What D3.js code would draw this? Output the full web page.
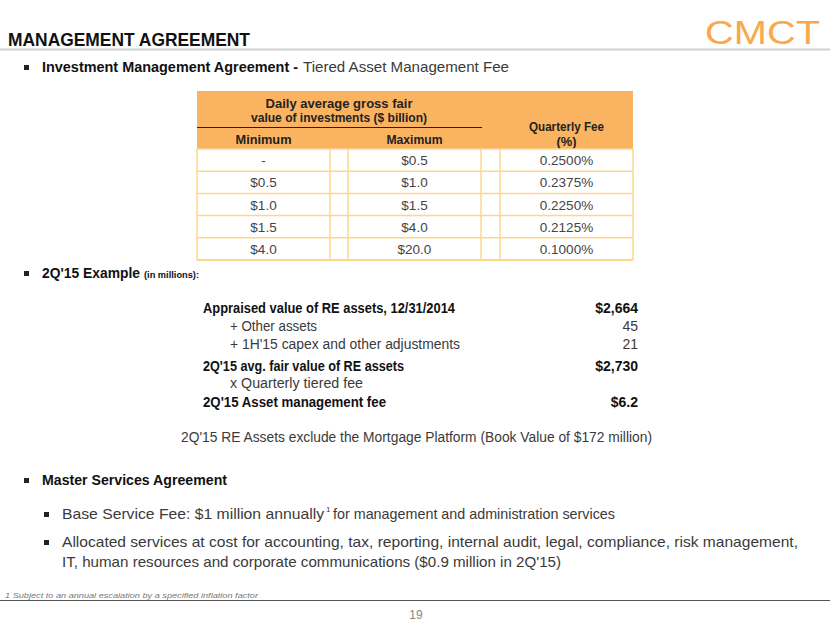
<!DOCTYPE html>
<html>
<head>
<meta charset="utf-8">
<script src="https://cdn.jsdelivr.net/npm/d3@7"></script>
<style>
  html, body { margin: 0; padding: 0; background: #fff; }
  svg { display: block; font-family: 'Liberation Sans', Arial, sans-serif; }
</style>
</head>
<body>
<svg id="slide" width="830" height="623"></svg>
<script>
// fee tiers ($ billion) and quarterly fee
const tierMin = ['-', '$0.5', '$1.0', '$1.5', '$4.0'];
const tierMax = ['$0.5', '$1.0', '$1.5', '$4.0', '$20.0'];
const tierFee = ['0.2500%', '0.2375%', '0.2250%', '0.2125%', '0.1000%'];

// 2Q'15 example (in millions)
const exampleLabels = [
  'Appraised value of RE assets, 12/31/2014',
  '+ Other assets',
  "+ 1H'15 capex and other adjustments",
  "2Q'15 avg. fair value of RE assets",
  'x Quarterly tiered fee',
  "2Q'15 Asset management fee"
];
const exampleValues = ['$2,664', '45', '21', '$2,730', '', '$6.2'];
const exampleBold = [true, false, false, true, false, true];

const svg = d3.select('#slide');
const orange = '#f9a94b';
const headFill = '#fab360';
const gridColor = '#fdd78c';
const textColor = '#3a3a3a';

// helper: text line, optionally fitted to a measured width
function line(x, y, str, opts = {}) {
  const t = svg.append('text')
    .attr('x', x).attr('y', y)
    .attr('font-size', opts.size || 15)
    .attr('font-weight', opts.bold ? 'bold' : 'normal')
    .attr('fill', opts.fill || textColor)
    .attr('text-anchor', opts.anchor || 'start')
    .text(str);
  if (opts.italic) t.attr('font-style', 'italic');
  if (opts.width) t.attr('textLength', opts.width).attr('lengthAdjust', 'spacingAndGlyphs');
  return t;
}

function bullet(x, y) {
  svg.append('rect').attr('x', x).attr('y', y).attr('width', 5).attr('height', 5).attr('fill', '#222');
}

// header
line(8, 46, 'MANAGEMENT AGREEMENT', { size: 19, bold: true, fill: '#111', width: 242 });
svg.append('line').attr('x1', 0).attr('x2', 830).attr('y1', 49.5).attr('y2', 49.5)
  .attr('stroke', '#cfcfcf').attr('stroke-width', 2);
line(705, 44, 'CMCT', { size: 33, fill: orange, width: 115 });

// bullet 1
bullet(24, 65);
line(42, 72, 'Investment Management Agreement -', { bold: true, fill: '#111', width: 256 });
line(303, 72, 'Tiered Asset Management Fee', { width: 206 });

// fee table
const tableLeft = 197, tableRight = 633;
const colEdges = [197, 330, 348, 481, 500, 633];
const rowY = d3.scaleBand().domain(d3.range(tierMin.length)).range([149, 260]);
const colCenter = i => (colEdges[i * 2] + colEdges[i * 2 + 1]) / 2;

svg.append('rect').attr('x', tableLeft).attr('y', 91).attr('width', tableRight - tableLeft)
  .attr('height', 58).attr('fill', headFill);
line(339, 108, 'Daily average gross fair', { size: 13, bold: true, fill: '#222', anchor: 'middle', width: 147 });
line(339, 122, 'value of investments ($ billion)', { size: 13, bold: true, fill: '#222', anchor: 'middle', width: 176 });
svg.append('line').attr('x1', tableLeft).attr('x2', 482).attr('y1', 127.5).attr('y2', 127.5)
  .attr('stroke', '#222').attr('stroke-width', 1.2);
line(colCenter(0), 144, 'Minimum', { size: 13, bold: true, fill: '#222', anchor: 'middle', width: 56 });
line(colCenter(1), 144, 'Maximum', { size: 13, bold: true, fill: '#222', anchor: 'middle', width: 56 });
line(colCenter(2), 131, 'Quarterly Fee', { size: 13, bold: true, fill: '#222', anchor: 'middle', width: 75 });
line(colCenter(2), 146, '(%)', { size: 13, bold: true, fill: '#222', anchor: 'middle', width: 20 });

const rows = svg.append('g');
rows.selectAll('line.h').data(d3.range(tierMin.length + 1)).enter().append('line')
  .attr('x1', tableLeft).attr('x2', tableRight)
  .attr('y1', i => (i < tierMin.length ? rowY(i) : rowY.range()[1]))
  .attr('y2', i => (i < tierMin.length ? rowY(i) : rowY.range()[1]))
  .attr('stroke', gridColor).attr('stroke-width', i => (i === tierMin.length ? 2 : 1.5));
rows.selectAll('line.v').data(colEdges).enter().append('line')
  .attr('x1', d => d).attr('x2', d => d)
  .attr('y1', 149).attr('y2', 260)
  .attr('stroke', gridColor).attr('stroke-width', 1.5);

[tierMin, tierMax, tierFee].forEach((col, ci) => {
  rows.selectAll(null).data(col).enter().append('text')
    .attr('x', colCenter(ci))
    .attr('y', (d, i) => rowY(i) + rowY.bandwidth() / 2 + 5)
    .attr('text-anchor', 'middle')
    .attr('font-size', 13.5)
    .attr('fill', '#444')
    .text(d => d);
});

// bullet 2
bullet(24, 271);
line(42, 278, "2Q'15 Example", { bold: true, fill: '#111', width: 98 });
line(144, 278, '(in millions):', { size: 8.5, bold: true, fill: '#111', width: 55 });

const exY = [313, 331, 349, 371, 388, 407];
const exW = [252, 87, 230, 201, 133, 183];
exampleLabels.forEach((lab, i) => {
  const indent = exampleBold[i] ? 203 : 230;
  line(indent, exY[i], lab, {
    size: 14, bold: exampleBold[i], fill: exampleBold[i] ? '#111' : textColor, width: exW[i]
  });
  if (exampleValues[i]) {
    line(638, exY[i], exampleValues[i], {
      size: 14, bold: exampleBold[i], fill: exampleBold[i] ? '#111' : textColor, anchor: 'end'
    });
  }
});

line(181, 442, "2Q'15 RE Assets exclude the Mortgage Platform (Book Value of $172 million)", { size: 14, width: 471 });

// bullet 3
bullet(24, 478);
line(42, 485, 'Master Services Agreement', { bold: true, fill: '#111', width: 185 });

bullet(44, 512);
line(62, 519, 'Base Service Fee: $1 million annually', { width: 262 });
line(326, 512, '1', { size: 8 });
line(333, 519, 'for management and administration services', { width: 282 });

bullet(44, 540);
line(62, 547, 'Allocated services at cost for accounting, tax, reporting, internal audit, legal, compliance, risk management,', { width: 736 });
line(62, 567, "IT, human resources and corporate communications ($0.9 million in 2Q'15)", { width: 499 });

// footer
line(5, 598, '1  Subject to an annual escalation by  a specified inflation factor', { size: 8, italic: true, fill: '#777', width: 253 });
svg.append('line').attr('x1', 0).attr('x2', 830).attr('y1', 600.5).attr('y2', 600.5)
  .attr('stroke', '#555').attr('stroke-width', 1);
line(416, 619, '19', { size: 12, fill: '#888', anchor: 'middle' });
</script>
</body>
</html>
